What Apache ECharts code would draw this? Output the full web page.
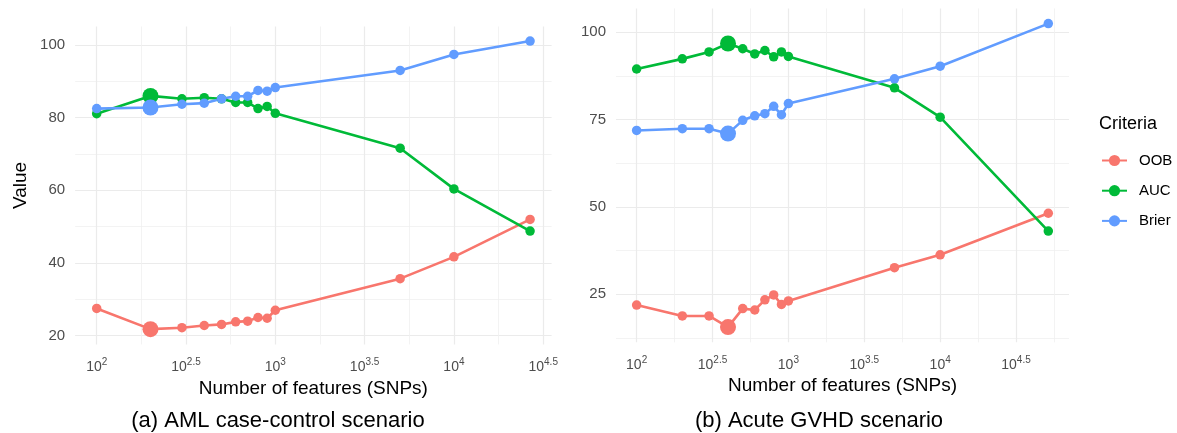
<!DOCTYPE html>
<html><head><meta charset="utf-8">
<script src="https://cdn.jsdelivr.net/npm/echarts@6/dist/echarts.min.js"></script>
<style>html,body{margin:0;padding:0;background:#fff}#c{width:1177px;height:433px}</style>
</head><body><div id="c"></div>
<script>
// Panel (a): AML case-control scenario
const features_a = [100,200,300,400,500,600,700,800,900,1000,5000,10000,26700];
const oob_a   = [27.5,21.8,22.2,22.8,23.1,23.8,24.0,25.0,24.8,27.0,35.7,41.7,52.0];
const auc_a   = [81.1,86.0,85.2,85.5,85.2,84.2,84.2,82.5,83.1,81.2,71.6,60.4,48.8];
const brier_a = [82.5,82.8,83.7,84.0,85.2,85.9,85.9,87.5,87.3,88.3,93.0,97.4,101.1];
const best_a = 200;
// Panel (b): Acute GVHD scenario
const features_b = [100,200,300,400,500,600,700,800,900,1000,5000,10000,51600];
const oob_b   = [21.9,18.8,18.8,15.6,20.9,20.5,23.4,24.8,22.1,23.1,32.6,36.3,48.2];
const auc_b   = [89.5,92.4,94.4,96.8,95.3,93.8,94.8,93.0,94.4,93.1,84.1,75.7,43.1];
const brier_b = [71.9,72.4,72.4,71.0,74.8,76.1,76.7,78.8,76.4,79.6,86.7,90.3,102.5];
const best_b = 400;
// Tick labels (exponents of 10 on x; values on y)
const xTickExp = [2,2.5,3,3.5,4,4.5];
const xMinorExp = [2.25,2.75,3.25,3.75,4.25,4.75];
const yTicks_a = [20,40,60,80,100];
const yMinor_a = [30,50,70,90];
const yTicks_b = [25,50,75,100];
const yMinor_b = [12.5,37.5,62.5,87.5];
const criteria = ['OOB','AUC','Brier'];
const colors = {OOB:'#F8766D', AUC:'#00BA38', Brier:'#619CFF'};

const FONT = '"Liberation Sans", Arial, Helvetica, sans-serif';
const chart = echarts.init(document.getElementById('c'), null, {renderer:'canvas'});

const grids = [
  {left:75.1, top:26.5, width:476.5, height:317.9},
  {left:616, top:8.4, width:453, height:333.9}
];
const xRange = [[1.879,4.547],[1.864,4.849]];
const yRange = [[17.6,105.1],[11.25,106.85]];
const yTicks = [yTicks_a, yTicks_b];
const yMinor = [yMinor_a, yMinor_b];

const xAxis = [], yAxis = [];
for (let g=0; g<2; g++) {
  xAxis.push({
    type:'value', gridIndex:g, min:xRange[g][0], max:xRange[g][1],
    axisLine:{show:false}, axisTick:{show:false, customValues:xTickExp},
    splitLine:{show:true, lineStyle:{color:'#ebebeb', width:1.2}},
    axisLabel:{customValues:xTickExp, margin:13, color:'#4d4d4d',
      formatter: v => '{b|10}{s|' + v + '}',
      rich:{b:{fontSize:14, fontFamily:FONT, color:'#4d4d4d'},
            s:{fontSize:10, fontFamily:FONT, color:'#4d4d4d', padding:[0,0,9,0]}}},
    name:'Number of features (SNPs)', nameLocation:'middle', nameGap:31,
    nameTextStyle:{fontSize:19, fontFamily:FONT, color:'#000'}
  });
  xAxis.push({
    type:'value', gridIndex:g, min:xRange[g][0], max:xRange[g][1], position:'top',
    axisLine:{show:false}, axisTick:{show:false, customValues:xMinorExp},
    axisLabel:{show:false, customValues:xMinorExp},
    splitLine:{show:true, lineStyle:{color:'#f0f0f0', width:0.8}}
  });
  yAxis.push({
    type:'value', gridIndex:g, min:yRange[g][0], max:yRange[g][1],
    axisLine:{show:false}, axisTick:{show:false, customValues:yTicks[g]},
    splitLine:{show:true, lineStyle:{color:'#ebebeb', width:1.2}},
    axisLabel:{customValues:yTicks[g], margin:10, color:'#4d4d4d', fontSize:15, fontFamily:FONT},
    name: g===0 ? 'Value' : '', nameLocation:'middle', nameGap:45, nameRotate:90,
    nameTextStyle:{fontSize:19, fontFamily:FONT, color:'#000'}
  });
  yAxis.push({
    type:'value', gridIndex:g, min:yRange[g][0], max:yRange[g][1], position:'right',
    axisLine:{show:false}, axisTick:{show:false, customValues:yMinor[g]},
    axisLabel:{show:false, customValues:yMinor[g]},
    splitLine:{show:true, lineStyle:{color:'#f0f0f0', width:0.8}}
  });
}

const panels = [
  {features:features_a, best:best_a, vals:{OOB:oob_a, AUC:auc_a, Brier:brier_a}},
  {features:features_b, best:best_b, vals:{OOB:oob_b, AUC:auc_b, Brier:brier_b}}
];
const series = [];
panels.forEach((p, g) => {
  criteria.forEach(c => {
    series.push({
      type:'line', name:c, xAxisIndex:g*2, yAxisIndex:g*2,
      data: p.features.map((f,i) => [Math.log10(f), p.vals[c][i]]),
      symbol:'circle',
      symbolSize: (v, params) => p.features[params.dataIndex] === p.best ? 16 : 9.5,
      itemStyle:{color:colors[c]},
      lineStyle:{color:colors[c], width:2.6},
      emphasis:{disabled:true}, animation:false, silent:true
    });
  });
});

chart.setOption({
  animation:false,
  textStyle:{fontFamily:FONT},
  grid: grids.map(g => Object.assign({containLabel:false}, g)),
  xAxis, yAxis, series,
  legend:{
    data:criteria, orient:'vertical', left:1101, top:153, padding:0,
    itemWidth:25, itemHeight:14, itemGap:15.2,
    textStyle:{fontSize:15, fontFamily:FONT, color:'#000', padding:[0,0,0,7]},
    selectedMode:false
  },
  graphic:[
    {type:'text', left:1099, top:115, style:{text:'Criteria', fontSize:18, fontFamily:FONT, fill:'#000'}},
    {type:'text', x:278, y:421, style:{text:'(a) AML case-control scenario', fontSize:22, fontFamily:FONT, fill:'#000', align:'center', verticalAlign:'middle'}},
    {type:'text', x:819, y:421, style:{text:'(b) Acute GVHD scenario', fontSize:22, fontFamily:FONT, fill:'#000', align:'center', verticalAlign:'middle'}}
  ]
});
</script></body></html>
